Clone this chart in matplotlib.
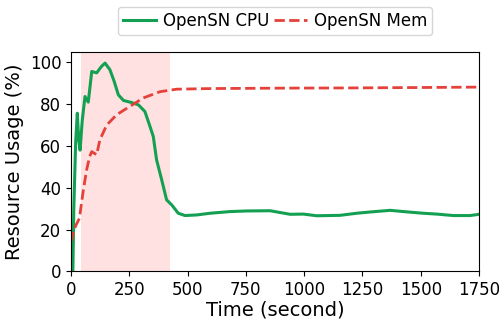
import matplotlib
matplotlib.use("Agg")
import matplotlib.pyplot as plt

# CPU usage (%)
cpu_t = [0, 8, 12, 20, 27, 33, 39, 48, 60, 74, 89, 110, 130, 146, 167, 185, 203, 225, 260,
         289, 317, 339, 353, 367, 389, 410, 432, 460, 489, 540, 596, 682, 754, 854, 940,
         997, 1054, 1154, 1225, 1283, 1369, 1426, 1511, 1569, 1640, 1712, 1750]
cpu_v = [0, 0, 30, 62, 75.7, 63, 58, 72, 83.7, 81, 95.7, 95, 98, 99.7, 96.5, 91, 84.5, 81.8, 80.8,
         79.7, 76.5, 69.3, 64.5, 53.4, 43.8, 34.2, 31.8, 27.8, 26.7, 27.0, 27.8, 28.6, 28.9, 29.0, 27.3,
         27.4, 26.6, 26.8, 27.8, 28.4, 29.2, 28.6, 27.8, 27.4, 26.7, 26.7, 27.3]

# memory usage (%)
mem_t = [0, 10, 21, 36, 53, 67, 80, 89, 110, 124, 153, 196, 253, 310, 382, 453, 600, 900, 1200, 1500, 1750]
mem_v = [14.0, 19.0, 22.0, 25.4, 39.0, 48.6, 55.0, 57.3, 55.8, 63.0, 70.0, 75.0, 79.0, 83.0, 86.0, 87.2,
         87.5, 87.7, 87.8, 88.0, 88.2]

SPAN = (45, 425)

fig = plt.figure(figsize=(4.99, 3.23), dpi=100)
ax = fig.add_axes([0.1423, 0.160, 0.8176, 0.679])
ax.axvspan(*SPAN, color="#ffdede", alpha=0.9, lw=0)
ax.plot(cpu_t, cpu_v, color="#14a052", lw=2.2, label="OpenSN CPU")
ax.plot(mem_t, mem_v, color="#e3413a", lw=2.0, ls="--", label="OpenSN Mem")
ax.set_xlim(0, 1750); ax.set_ylim(0, 105)
ax.set_xticks(range(0, 1751, 250)); ax.set_yticks(range(0, 101, 20))
ax.tick_params(labelsize=12)
ax.set_xlabel("Time (second)", fontsize=14, labelpad=1)
ax.set_ylabel("Resource Usage (%)", fontsize=14)
ax.legend(loc="lower center", bbox_to_anchor=(0.5, 1.04), ncol=2, fontsize=12,
          columnspacing=0.3, handlelength=2.0, handletextpad=0.4, borderpad=0.3,
          frameon=True)
fig.savefig("out.png", dpi=100)
